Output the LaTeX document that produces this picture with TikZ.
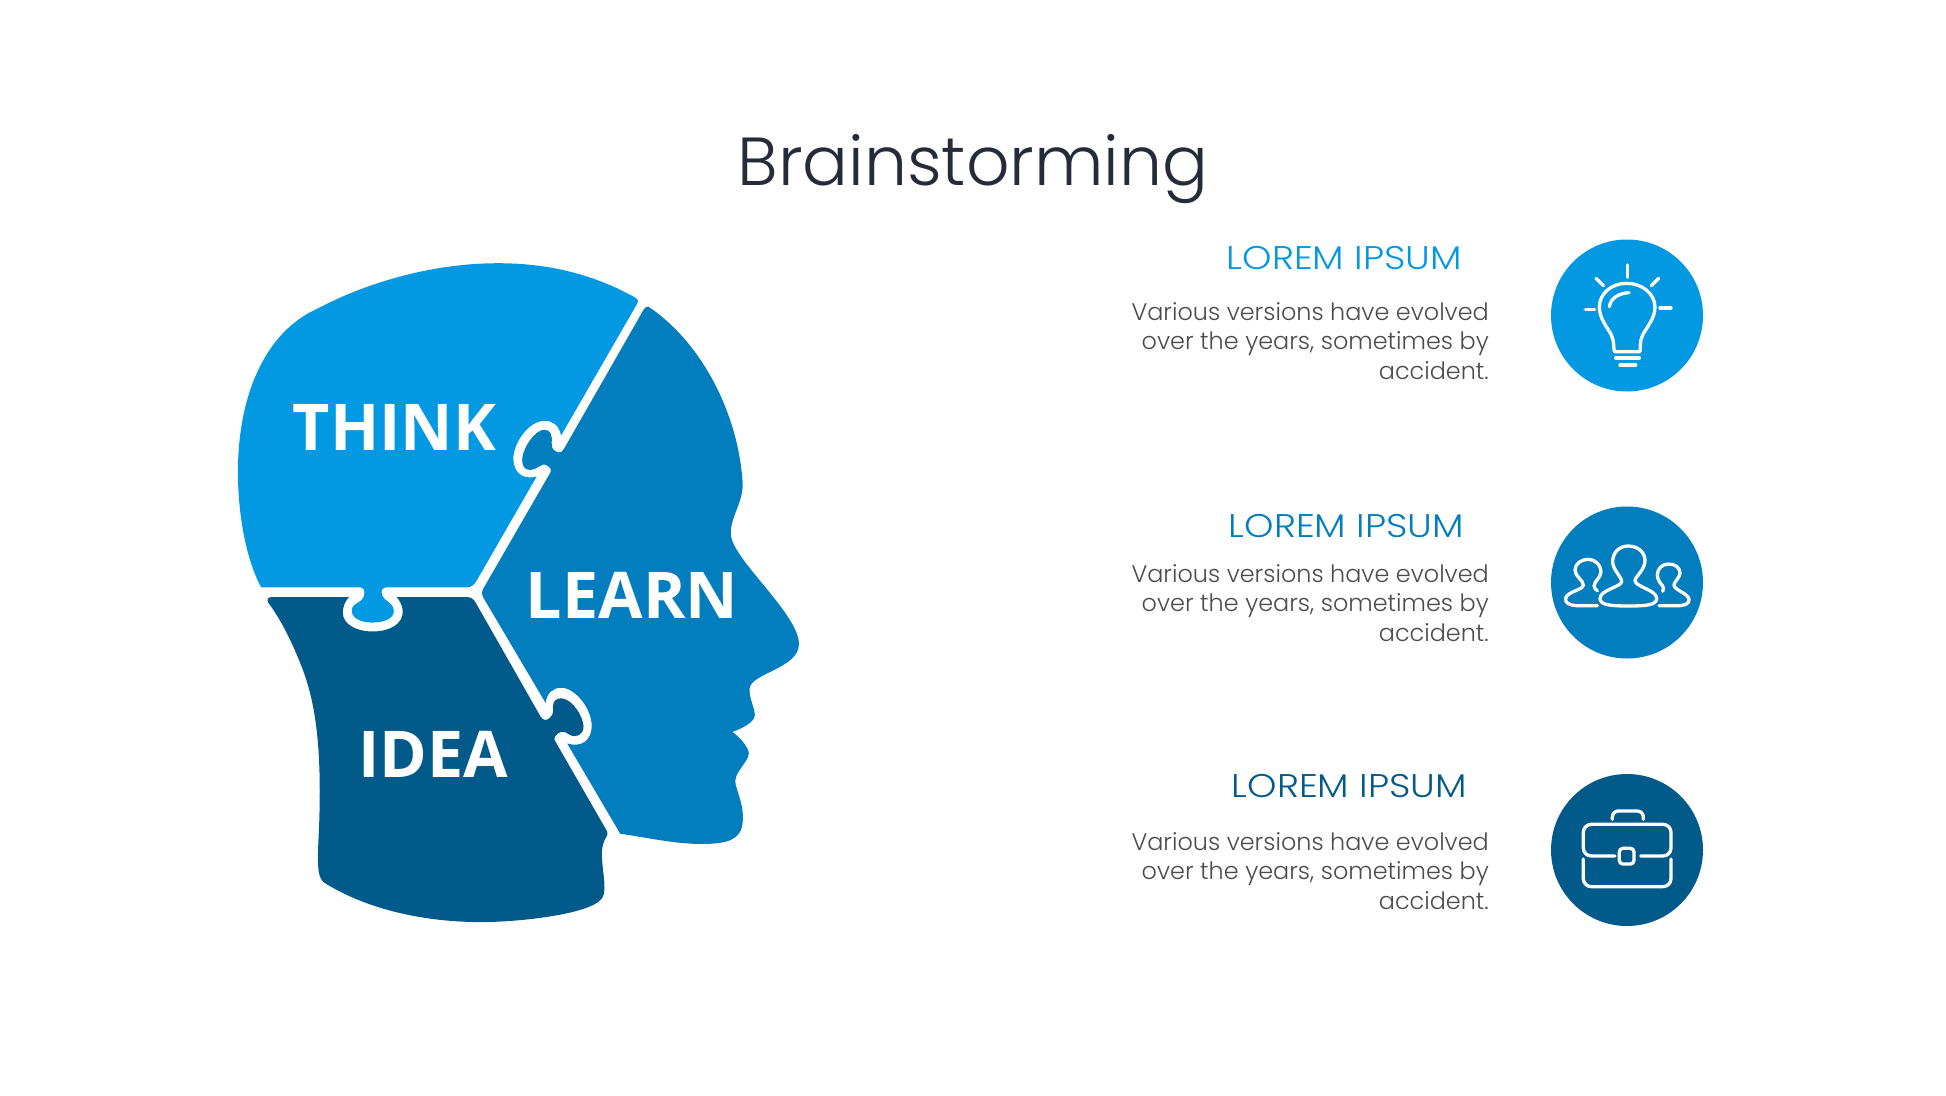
\documentclass[tikz,border=0pt]{standalone}
\usepackage{fontspec}
\setmainfont{Poppins}
\newfontfamily\wordfont{Open Sans}
\newfontfamily\thinfont[UprightFont=* Light]{Poppins}
\newfontfamily\widefont[UprightFont=* Light,FakeStretch=1.14]{Poppins}
\definecolor{thinkblue}{HTML}{0398E2}
\definecolor{learnblue}{HTML}{027DBD}
\definecolor{ideablue}{HTML}{025A8A}
\definecolor{titleink}{HTML}{262B3A}
\definecolor{bodyink}{HTML}{4A4A4F}
\tikzset{
  piecelabel/.style={text=white,inner sep=0pt,font=\wordfont\bfseries\fontsize{64.5}{70}\selectfont},
  headline/.style={inner sep=0pt,anchor=east,font=\widefont\fontsize{32.8}{36}\selectfont},
  bodytext/.style={inner sep=0pt,anchor=east,align=right,text=bodyink,font=\thinfont\fontsize{23.9}{29.4}\selectfont},
  iconcircle/.style={circle,minimum size=152pt,inner sep=0pt},
  iconline/.style={draw=white,line width=3.3pt,line cap=round,line join=round}
}
\begin{document}
\begin{tikzpicture}[x=1pt,y=-1pt]
\useasboundingbox (0,0) rectangle (1946,1095);
\node [text=titleink,inner sep=0pt,font=\thinfont\fontsize{68}{72}\selectfont] (title) at (973,169) {Brainstorming};
\begin{scope}[shift={(200,240)},x=0.408pt,y=-0.4464pt]
\fill [thinkblue] (150,778) .. controls (115,720) and (93,620) .. (93,520) .. controls (93,340) and (165,205) .. (285,155) .. controls (420,90) and (580,52) .. (730,52) .. controls (850,52) and (960,75) .. (1065,128) .. controls (1075,133) and (1075,138) .. (1070,145) -- (885,438) .. controls (880,415) and (865,405) .. (845,405) .. controls (805,405) and (768,455) .. (768,490) .. controls (768,520) and (790,538) .. (825,530) -- (680,760) .. controls (672,773) and (665,778) .. (655,778) -- (458,778) .. controls (447,778) and (443,785) .. (446,795) .. controls (450,810) and (475,810) .. (475,832) .. controls (475,848) and (450,857) .. (423,857) .. controls (395,857) and (372,848) .. (372,830) .. controls (372,810) and (403,815) .. (403,790) .. controls (403,781) and (398,778) .. (390,778) -- cycle;
\fill [learnblue] (1100,150) .. controls (1230,230) and (1320,390) .. (1330,545) .. controls (1332,590) and (1295,625) .. (1302,665) .. controls (1312,720) and (1468,840) .. (1468,905) .. controls (1468,960) and (1350,970) .. (1347,1005) .. controls (1345,1025) and (1360,1050) .. (1360,1065) .. controls (1358,1082) and (1325,1095) .. (1305,1102) .. controls (1320,1112) and (1345,1135) .. (1345,1150) .. controls (1345,1168) and (1312,1190) .. (1312,1212) .. controls (1312,1230) and (1335,1265) .. (1330,1305) .. controls (1326,1345) and (1290,1352) .. (1235,1353) .. controls (1170,1354) and (1090,1338) .. (1030,1330) -- (900,1128) .. controls (935,1137) and (960,1122) .. (960,1088) .. controls (960,1050) and (920,1003) .. (885,1003) .. controls (865,1003) and (850,1015) .. (847,1037) -- (695,802) .. controls (690,793) and (690,788) .. (695,780) -- (858,522) .. controls (862,515) and (860,510) .. (850,505) .. controls (835,497) and (830,515) .. (808,515) .. controls (795,515) and (788,505) .. (790,488) .. controls (793,465) and (820,425) .. (845,425) .. controls (860,425) and (864,440) .. (862,455) .. controls (860,468) and (870,473) .. (878,476) .. controls (884,477) and (888,474) .. (892,468) -- (1088,155) .. controls (1092,149) and (1096,148) .. (1100,150) -- cycle;
\fill [ideablue] (175,800) -- (365,800) .. controls (355,810) and (350,822) .. (350,835) .. controls (350,862) and (385,877) .. (423,877) .. controls (465,877) and (497,860) .. (497,833) .. controls (497,820) and (490,808) .. (482,800) -- (655,800) .. controls (665,800) and (671,805) .. (676,813) -- (835,1068) .. controls (841,1077) and (850,1077) .. (858,1070) .. controls (868,1062) and (865,1052) .. (865,1045) .. controls (865,1032) and (875,1025) .. (888,1027) .. controls (915,1030) and (940,1070) .. (940,1090) .. controls (940,1110) and (920,1116) .. (905,1108) .. controls (890,1098) and (880,1100) .. (870,1112) .. controls (867,1117) and (869,1121) .. (872,1125) -- (998,1325) .. controls (1004,1335) and (985,1340) .. (985,1375) .. controls (985,1410) and (997,1450) .. (988,1470) .. controls (972,1510) and (780,1528) .. (690,1528) .. controls (550,1528) and (410,1500) .. (305,1440) .. controls (285,1428) and (288,1390) .. (292,1310) .. controls (300,1100) and (275,1010) .. (240,935) .. controls (215,880) and (190,840) .. (167,812) .. controls (163,805) and (167,800) .. (175,800) -- cycle;
\end{scope}
\node [piecelabel] (think) at (394.5,427) {THINK};
\node [piecelabel] (learn) at (632,595.5) {LEARN};
\node [piecelabel] (idea) at (433.5,754.5) {IDEA};
\node [headline,text=thinkblue] (headone) at (1462,258) {LOREM IPSUM};
\node [headline,text=learnblue] (headtwo) at (1464,526) {LOREM IPSUM};
\node [headline,text=ideablue] (headthree) at (1467,786) {LOREM IPSUM};
\node [bodytext] (textone) at (1489,341) {Various versions have evolved\\over the years, sometimes by\\accident.};
\node [bodytext] (texttwo) at (1489,603) {Various versions have evolved\\over the years, sometimes by\\accident.};
\node [bodytext] (textthree) at (1489,871) {Various versions have evolved\\over the years, sometimes by\\accident.};
\node [iconcircle,fill=thinkblue] (bulbdisc) at (1627,315.5) {};
\node [iconcircle,fill=learnblue] (teamdisc) at (1627,582.5) {};
\node [iconcircle,fill=ideablue] (casedisc) at (1627,850) {};
\begin{scope}[shift={(1520,220)},x=0.3333pt,y=-0.3333pt]
\draw [iconline] (322,135) -- (322,172);
\draw [iconline] (228,175) -- (250,197);
\draw [iconline] (416,175) -- (394,197);
\draw [iconline] (196,268) -- (224,268);
\draw [iconline] (420,264) -- (453,264);
\draw [iconline] (283,395) -- (360,395) .. controls (362,385) and (358,365) .. (368,345) .. controls (380,322) and (405,295) .. (405,262) .. controls (405,220) and (365,190) .. (320,190) .. controls (275,190) and (238,220) .. (238,262) .. controls (238,295) and (262,322) .. (274,345) .. controls (284,365) and (280,385) .. (283,395);
\draw [iconline] (268,260) .. controls (272,235) and (295,220) .. (327,218);
\draw [iconline] (287,414) -- (358,414);
\draw [iconline] (300,435) -- (347,435);
\end{scope}
\begin{scope}[shift={(1520,490)},x=0.3333pt,y=-0.3333pt]
\draw [iconline] (325,168) .. controls (295,168) and (278,190) .. (278,215) .. controls (278,240) and (305,260) .. (305,275) .. controls (305,290) and (240,300) .. (240,325) .. controls (240,345) and (270,348) .. (325,348) .. controls (380,348) and (410,345) .. (410,325) .. controls (410,300) and (345,290) .. (345,272) .. controls (345,260) and (375,240) .. (375,212) .. controls (375,188) and (355,168) .. (325,168) -- cycle;
\draw [iconline] (232,347) -- (170,347) .. controls (145,345) and (135,338) .. (137,325) .. controls (140,305) and (190,300) .. (190,285) .. controls (190,270) and (165,260) .. (165,240) .. controls (165,220) and (185,208) .. (205,208) .. controls (225,208) and (243,225) .. (243,245) .. controls (243,262) and (222,275) .. (222,288) .. controls (222,295) and (228,298) .. (232,302);
\draw [iconline] (417,347) -- (480,347) .. controls (498,345) and (508,340) .. (507,328) .. controls (505,310) and (462,300) .. (462,285) .. controls (462,275) and (480,262) .. (480,250) .. controls (480,232) and (465,222) .. (445,222) .. controls (425,222) and (412,238) .. (412,255) .. controls (412,270) and (422,280) .. (428,288) .. controls (432,293) and (431,298) .. (428,304);
\end{scope}
\begin{scope}[shift={(1520,760)},x=0.3333pt,y=-0.3333pt]
\draw [iconline,rounded corners=6pt] (277,178) -- (277,153) -- (370,153) -- (370,178);
\draw [iconline,rounded corners=8pt] (285,288) -- (190,288) -- (190,193) -- (453,193) -- (453,288) -- (362,288);
\draw [iconline,rounded corners=3.5pt] (298,265) rectangle (342,312);
\draw [iconline,rounded corners=8pt] (190,297) -- (190,380) -- (453,380) -- (453,297);
\end{scope}
\end{tikzpicture}
\end{document}
